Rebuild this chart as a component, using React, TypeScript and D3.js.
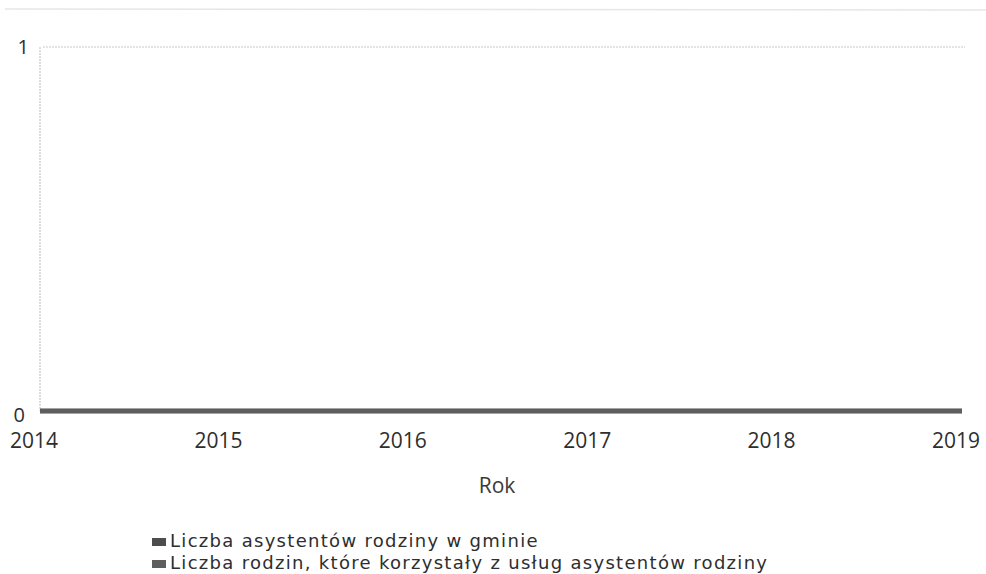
import React from "react";
import * as d3 from "d3";

const years = [2014, 2015, 2016, 2017, 2018, 2019];
const assistants = [0, 0, 0, 0, 0, 0];
const families = [0, 0, 0, 0, 0, 0];
const yTicks = [0, 1];
const seriesNames = [
  "Liczba asystentów rodziny w gminie",
  "Liczba rodzin, które korzystały z usług asystentów rodziny",
];
const seriesColors = ["#4d4d4d", "#5e5e5e"];

const W = 986;
const H = 574;
const font = "'Open Sans', 'DejaVu Sans', sans-serif";

export default function App() {
  const x = d3.scaleLinear().domain([2014, 2019]).range([40, 962]);
  const y = d3.scaleLinear().domain([0, 1]).range([411, 47]);
  const line = d3
    .line<number>()
    .x((_, i) => x(years[i]))
    .y((d) => y(d));
  const series = [assistants, families];

  return (
    <svg
      width={W}
      height={H}
      style={{ position: "absolute", left: 0, top: 0, background: "#fff" }}
      fontFamily={font}
    >
      {/* faint remnant of cut-off title */}
      <line x1={5} x2={986} y1={9} y2={10} stroke="#e6e6e6" strokeWidth={1.5} />
      {/* grid line at top */}
      <line
        x1={43}
        x2={965}
        y1={y(1)}
        y2={y(1)}
        stroke="#c8c8c8"
        strokeWidth={1}
        strokeDasharray="2,1"
      />
      {/* y axis line */}
      <line
        x1={40}
        x2={40}
        y1={y(1)}
        y2={y(0)}
        stroke="#bdbdbd"
        strokeWidth={1}
        strokeDasharray="2,1"
      />
      {yTicks.map((t) => (
        <text
          key={t}
          x={t === 1 ? 29 : 25}
          y={y(t) + (t === 0 ? 6 : 2)}
          textAnchor="end"
          dominantBaseline="middle"
          fontSize={20}
          fill="#2e2e2e"
        >
          {t}
        </text>
      ))}
      {series.map((s, i) => (
        <path
          key={i}
          d={line(s) || ""}
          fill="none"
          stroke={seriesColors[i]}
          strokeWidth={5 - i}
        />
      ))}
      {years.map((yr) => (
        <text
          key={yr}
          x={x(yr) - 6}
          y={448}
          textAnchor="middle"
          fontSize={21}
          fill="#2e2e2e"
        >
          {yr}
        </text>
      ))}
      <text x={497} y={493} textAnchor="middle" fontSize={21} fill="#3a3a3a">
        Rok
      </text>
      {seriesNames.map((n, i) => (
        <g key={n} transform={`translate(152, ${542 + i * 22})`}>
          <rect x={0} y={-4} width={14} height={8} fill={seriesColors[i]} />
          <text
            x={18}
            y={0}
            dominantBaseline="middle"
            fontSize={18}
            letterSpacing={1.3}
            fontFamily="'DejaVu Sans', sans-serif"
            fill="#2e2e2e"
          >
            {n}
          </text>
        </g>
      ))}
    </svg>
  );
}
